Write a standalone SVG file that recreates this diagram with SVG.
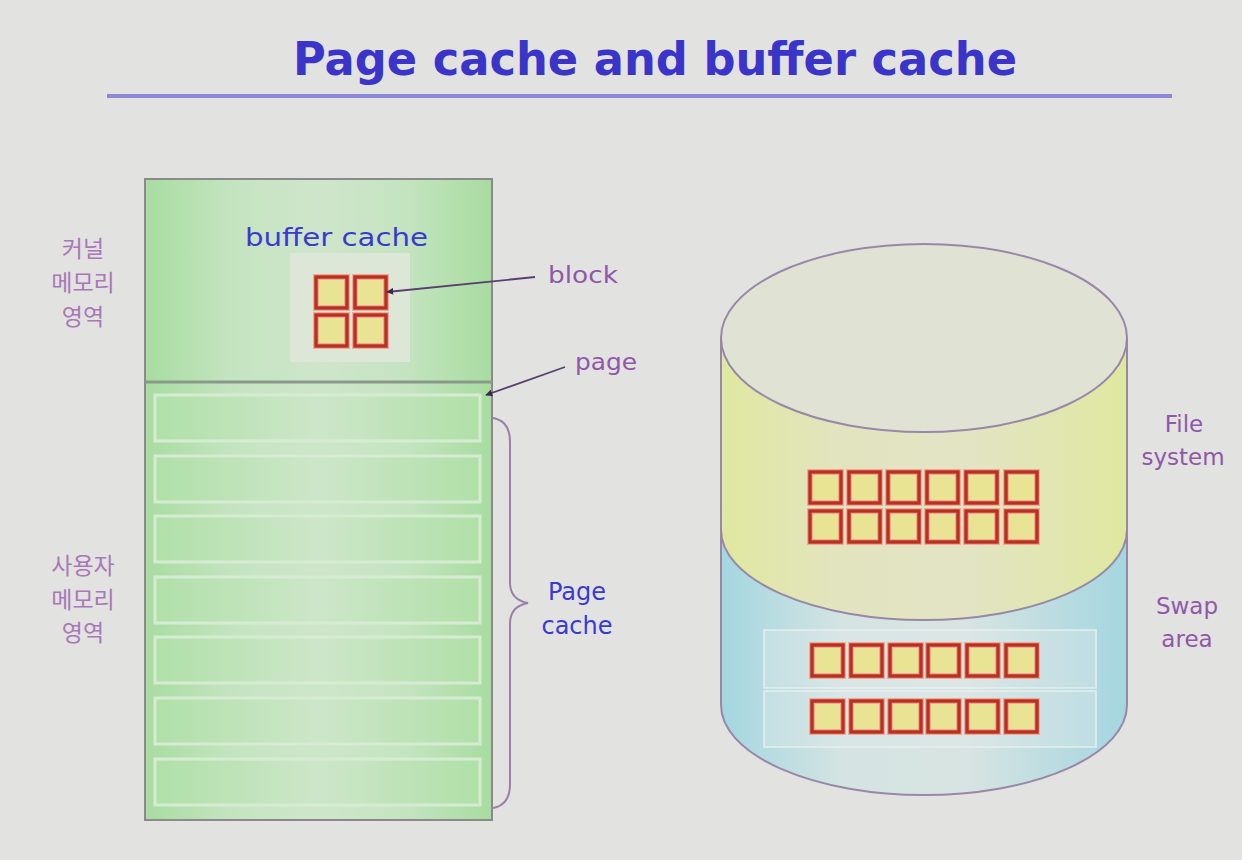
<svg xmlns="http://www.w3.org/2000/svg" width="1242" height="860" viewBox="0 0 1242 860">
<style>
.lbl{font-family:"DejaVu Sans","Noto Sans CJK KR",sans-serif;font-size:23px;fill:#9058a8}
.kr{font-family:"Noto Sans CJK KR","DejaVu Sans",sans-serif;font-size:23px;fill:#a878b8;text-anchor:middle}
.blue{font-family:"DejaVu Sans",sans-serif;font-size:24px;fill:#3a3ad0}
.outline{fill:none;stroke:#9888a8;stroke-width:2}
.conn{fill:none;stroke:#5a4070;stroke-width:1.8}
.strip{fill:url(#gStrip);stroke:#d6ecd2;stroke-width:3}
.swap{fill:#e4ecea;fill-opacity:0.3;stroke:#e8f0ee;stroke-width:2;stroke-opacity:0.7}
</style>
<defs>
<linearGradient id="gGreen" x1="0" y1="0" x2="1" y2="0">
<stop offset="0" stop-color="#a8dca0"/><stop offset="0.25" stop-color="#c4e4c0"/><stop offset="0.5" stop-color="#cfe5cb"/><stop offset="0.75" stop-color="#c4e4c0"/><stop offset="1" stop-color="#a8dca0"/>
</linearGradient>
<linearGradient id="gStrip" x1="0" y1="0" x2="1" y2="0">
<stop offset="0" stop-color="#b0e0a8"/><stop offset="0.5" stop-color="#cde6c9"/><stop offset="1" stop-color="#b0e0a8"/>
</linearGradient>
<linearGradient id="gYellow" x1="0" y1="0" x2="1" y2="0">
<stop offset="0" stop-color="#dfe8a0"/><stop offset="0.3" stop-color="#e2e4c0"/><stop offset="0.6" stop-color="#e2e4c4"/><stop offset="1" stop-color="#dfe8a0"/>
</linearGradient>
<linearGradient id="gBlue" x1="0" y1="0" x2="1" y2="0">
<stop offset="0" stop-color="#a4d6e0"/><stop offset="0.3" stop-color="#d4e4e2"/><stop offset="0.6" stop-color="#d8e4e2"/><stop offset="1" stop-color="#a4d6e0"/>
</linearGradient>
<g id="blk">
<rect x="0" y="0" width="31" height="31" fill="#e8e494" stroke="#f2a898" stroke-width="6"/>
<rect x="0" y="0" width="31" height="31" fill="none" stroke="#b8301e" stroke-width="3.4"/>
</g>
<marker id="ah" viewBox="0 0 10 10" refX="9" refY="5" markerWidth="7" markerHeight="7" orient="auto" markerUnits="userSpaceOnUse">
<path d="M0 0 L10 5 L0 10 Z" fill="#3a2850"/>
</marker>
</defs>
<rect width="1242" height="860" fill="#e2e2e0"/>
<g id="title">
<text x="655" y="75" text-anchor="middle" font-family="DejaVu Sans,sans-serif" font-weight="bold" font-size="46" fill="#3a35c8" textLength="724" lengthAdjust="spacingAndGlyphs">Page cache and buffer cache</text>
<line x1="107" y1="96" x2="1172" y2="96" stroke="#8a88d8" stroke-width="4"/>
</g>
<g id="memory">
<rect x="145" y="179" width="347" height="641" fill="url(#gGreen)" stroke="#8a8a8a" stroke-width="2"/>
<line x1="145" y1="382" x2="492" y2="382" stroke="#8a9a8a" stroke-width="3"/>
</g>
<g id="kernel-labels">
<text class="kr" x="83" y="257">커널</text>
<text class="kr" x="83" y="291">메모리</text>
<text class="kr" x="83" y="325">영역</text>
</g>
<g id="user-labels">
<text class="kr" x="83" y="574">사용자</text>
<text class="kr" x="83" y="608">메모리</text>
<text class="kr" x="83" y="641">영역</text>
</g>
<g id="buffer-cache">
<text class="blue" x="245" y="246" textLength="183" lengthAdjust="spacingAndGlyphs">buffer cache</text>
<rect x="290" y="253" width="120" height="109" fill="#dde7d8"/>
<use href="#blk" x="316" y="277"/>
<use href="#blk" x="355" y="277"/>
<use href="#blk" x="316" y="315"/>
<use href="#blk" x="355" y="315"/>
</g>
<g id="pages">
<rect class="strip" x="155" y="395" width="325" height="46"/>
<rect class="strip" x="155" y="456" width="325" height="46"/>
<rect class="strip" x="155" y="516" width="325" height="46"/>
<rect class="strip" x="155" y="577" width="325" height="46"/>
<rect class="strip" x="155" y="637" width="325" height="46"/>
<rect class="strip" x="155" y="698" width="325" height="46"/>
<rect class="strip" x="155" y="759" width="325" height="46"/>
</g>
<g id="labels-left">
<text class="lbl" x="548" y="283" textLength="70" lengthAdjust="spacingAndGlyphs">block</text>
<text class="lbl" x="575" y="370" textLength="62" lengthAdjust="spacingAndGlyphs">page</text>
<text class="blue" x="577" y="600" text-anchor="middle">Page</text>
<text class="blue" x="577" y="634" text-anchor="middle">cache</text>
</g>
<g id="disk">
<path d="M721 530 L721 705 A203 90 0 0 0 1127 705 L1127 530 Z" fill="url(#gBlue)"/>
<path d="M721 338 L721 530 A203 90 0 0 0 1127 530 L1127 338 Z" fill="url(#gYellow)"/>
<path class="outline" d="M721 530 A203 90 0 0 0 1127 530"/>
<path class="outline" d="M721 338 L721 705 A203 90 0 0 0 1127 705 L1127 338"/>
<ellipse cx="924" cy="338" rx="203" ry="94" fill="#e0e2d4" stroke="#9888a8" stroke-width="2"/>
<rect class="swap" x="764" y="630" width="332" height="58"/>
<rect class="swap" x="764" y="691" width="332" height="56"/>
</g>
<g id="fs-blocks">
<use href="#blk" x="810" y="472"/><use href="#blk" x="849" y="472"/><use href="#blk" x="888" y="472"/><use href="#blk" x="927" y="472"/><use href="#blk" x="966" y="472"/><use href="#blk" x="1006" y="472"/>
<use href="#blk" x="810" y="511"/><use href="#blk" x="849" y="511"/><use href="#blk" x="888" y="511"/><use href="#blk" x="927" y="511"/><use href="#blk" x="966" y="511"/><use href="#blk" x="1006" y="511"/>
</g>
<g id="swap-blocks">
<use href="#blk" x="812" y="645"/><use href="#blk" x="851" y="645"/><use href="#blk" x="890" y="645"/><use href="#blk" x="928" y="645"/><use href="#blk" x="967" y="645"/><use href="#blk" x="1006" y="645"/>
<use href="#blk" x="812" y="701"/><use href="#blk" x="851" y="701"/><use href="#blk" x="890" y="701"/><use href="#blk" x="928" y="701"/><use href="#blk" x="967" y="701"/><use href="#blk" x="1006" y="701"/>
</g>
<g id="labels-right">
<text class="lbl" x="1184" y="432" text-anchor="middle">File</text>
<text class="lbl" x="1183" y="465" text-anchor="middle">system</text>
<text class="lbl" x="1187" y="614" text-anchor="middle">Swap</text>
<text class="lbl" x="1187" y="647" text-anchor="middle">area</text>
</g>
<g id="connectors">
<line class="conn" x1="535" y1="277" x2="387" y2="292" marker-end="url(#ah)"/>
<line class="conn" x1="565" y1="367" x2="486" y2="395" marker-end="url(#ah)"/>
<path d="M493 418 Q510 421 510 442 L510 584 Q511 600 528 603 Q511 606 510 622 L510 784 Q510 805 493 808" fill="none" stroke="#9a80a8" stroke-width="2"/>
</g>
</svg>
